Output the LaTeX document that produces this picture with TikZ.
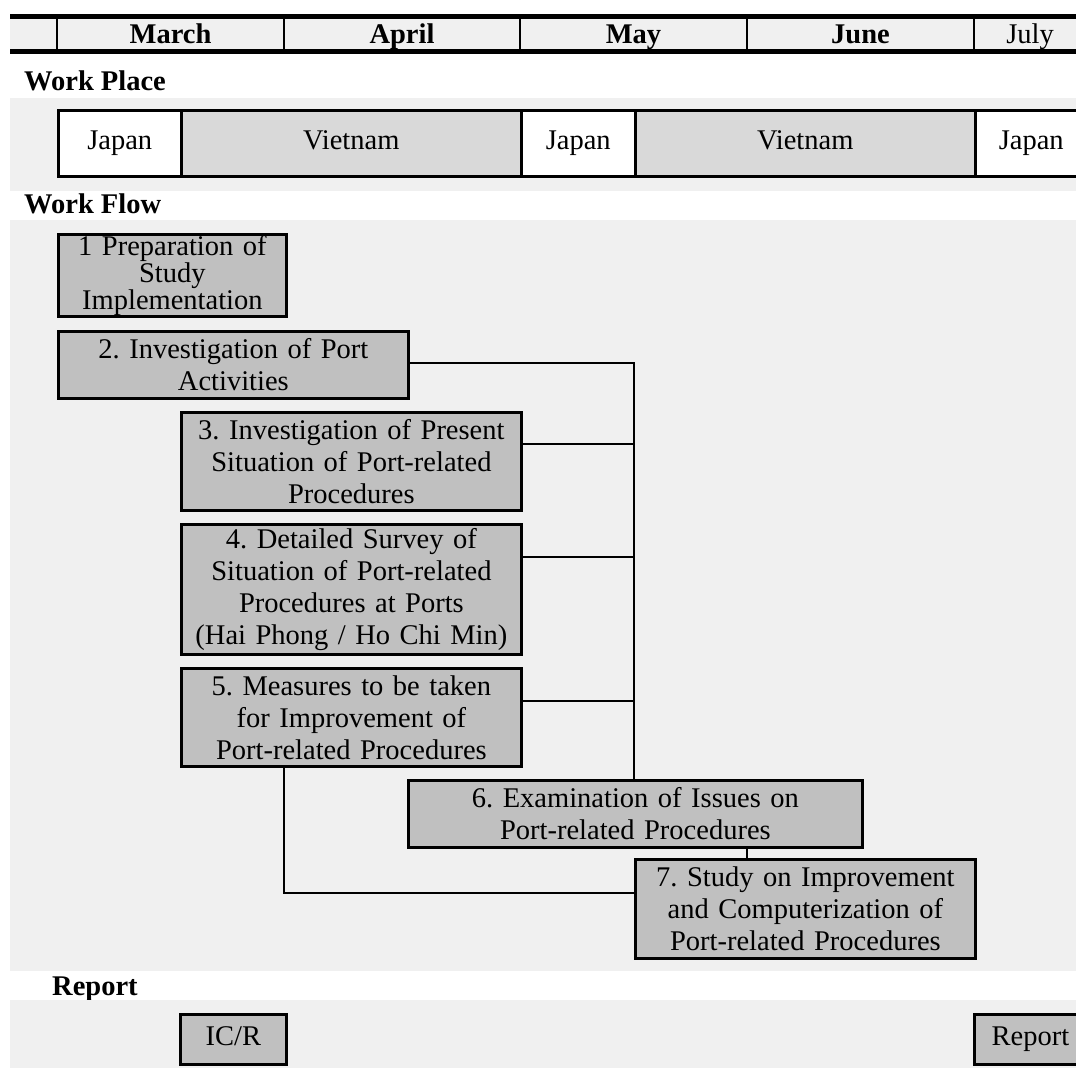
\documentclass[tikz,border=0pt]{standalone}
\usepackage{fontspec}
\setmainfont{Liberation Serif}
\definecolor{bandgray}{HTML}{F0F0F0}
\definecolor{taskgray}{HTML}{C0C0C0}
\definecolor{staygray}{HTML}{D9D9D9}
\begin{document}
\frenchspacing
\begin{tikzpicture}[x=1pt,y=-1pt,
  txt/.style={font=\fontsize{28.5}{32}\selectfont},
  month/.style={txt, font=\fontsize{28.5}{32}\selectfont\bfseries, anchor=base, inner sep=0},
  heading/.style={font=\fontsize{28.5}{32}\selectfont\bfseries, anchor=base west, inner sep=0},
  place/.style={txt, draw, line width=2.5pt, anchor=north west, inner sep=0,
                text height=19pt, text depth=6pt, minimum height=66pt},
  task/.style={txt, draw, line width=2.8pt, fill=taskgray, anchor=north west,
               inner sep=0, align=center},
  tag/.style={task, text height=19pt, text depth=6pt},
  link/.style={line width=2.2pt}]
\clip (0,0) rectangle (1076,1068);
\useasboundingbox (0,0) rectangle (1076,1068);
\fill[white] (0,0) rectangle (1076,1068);

% month header
\fill[bandgray] (10,19) rectangle (1076,49);
\draw[line width=5pt] (10,16.5) -- (1076,16.5);
\draw[line width=5pt] (10,51.5) -- (1076,51.5);
\foreach \x in {57,284,520,747,974}
  \draw[line width=2.5pt] (\x,19) -- (\x,49);
\node[month] (mar) at (170.5,43) {March};
\node[month] (apr) at (402,43) {April};
\node[month] (may) at (633.5,43) {May};
\node[month] (jun) at (860.5,43) {June};
\node[txt, anchor=base, inner sep=0] (jul) at (1030,43) {July};

% work place
\node[heading] (wplabel) at (24,90) {Work Place};
\fill[bandgray] (10,98) rectangle (1076,191);
\node[place, fill=white, minimum width=123pt] (jp1) at (57,109) {Japan};
\node[place, fill=staygray, minimum width=340pt] (vn1) at (180,109) {Vietnam};
\node[place, fill=white, minimum width=114pt] (jp2) at (520,109) {Japan};
\node[place, fill=staygray, minimum width=340pt] (vn2) at (634,109) {Vietnam};
\node[place, fill=white, minimum width=112pt] (jp3) at (974,109) {Japan};

% work flow
\node[heading] (wflabel) at (24,213) {Work Flow};
\fill[bandgray] (10,220) rectangle (1076,971);

\node[task, text width=228pt, minimum height=82pt,
      font=\fontsize{28.5}{27}\selectfont] (b1) at (57,233)
  {1 Preparation of\\Study\\Implementation};
\node[task, text width=350pt, minimum height=67pt] (b2) at (57,330)
  {2. Investigation of Port\\Activities};
\node[task, text width=340pt, minimum height=98pt] (b3) at (180,411)
  {3. Investigation of Present\\Situation of Port-related\\Procedures};
\node[task, text width=340pt, minimum height=130pt] (b4) at (180,523)
  {4. Detailed Survey of\\Situation of Port-related\\Procedures at Ports\\(Hai Phong / Ho Chi Min)};
\node[task, text width=340pt, minimum height=98pt] (b5) at (180,667)
  {5. Measures to be taken\\for Improvement of\\Port-related Procedures};
\node[task, text width=454pt, minimum height=67pt] (b6) at (407,779)
  {6. Examination of Issues on\\Port-related Procedures};
\node[task, text width=340pt, minimum height=99pt] (b7) at (634,858)
  {7. Study on Improvement\\and Computerization of\\Port-related Procedures};

% connectors
\coordinate (bus2) at (634,363);
\coordinate (bus3) at (634,444);
\coordinate (bus4) at (634,557);
\coordinate (bus5) at (634,701);
\coordinate (turn) at (284,893);
\coordinate (mid67) at (747,851);
\draw[link] (b2.east |- bus2) -- (bus2) -- (b6.north -| bus2);
\draw[link] (b3.east |- bus3) -- (bus3);
\draw[link] (b4.east |- bus4) -- (bus4);
\draw[link] (b5.east |- bus5) -- (bus5);
\draw[link] (b5.south -| turn) -- (turn) -- (b7.west |- turn);
\draw[link] (b6.south -| mid67) -- (b7.north -| mid67);

% report
\node[heading] (rplabel) at (52,995) {Report};
\fill[bandgray] (10,1000) rectangle (1076,1068);
\node[tag, text width=106pt, minimum height=50pt] (icr) at (179,1013) {IC/R};
\node[tag, text width=112pt, minimum height=50pt] (fr) at (973,1013) {Report};
\end{tikzpicture}
\end{document}
